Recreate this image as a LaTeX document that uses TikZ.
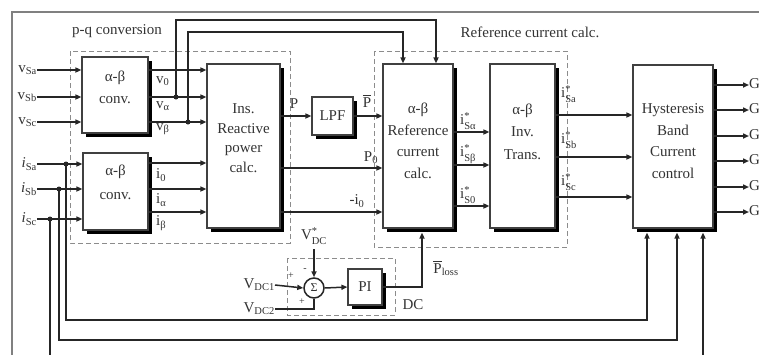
\documentclass[tikz,border=0pt]{standalone}
\usepackage{amsmath}
\usepackage{fontspec}
\setmainfont{Liberation Serif}
\usetikzlibrary{arrows.meta,shadows,calc}
\newcommand{\supsub}[2]{$^{\text{#1}}_{\text{#2}}$}
\begin{document}
\begin{tikzpicture}[x=1pt,y=-1pt,
  font=\fontsize{15}{19}\selectfont, text=black!80,
  blk/.style={rectangle, draw=black!75, line width=1.2pt, fill=white, inner sep=0pt,
    drop shadow={shadow xshift=4pt, shadow yshift=-4pt, fill=black, opacity=1}},
  txt/.style={inner sep=0pt, align=center},
  lbl/.style={inner sep=0pt, font=\fontsize{15}{17}\selectfont},
  wire/.style={draw=black!85, line width=1.5pt},
  arr/.style={wire, -{Triangle[length=6pt,width=5pt]}},
  dashbox/.style={draw=black!45, line width=1pt, dash pattern=on 5pt off 3pt},
  dot/.style={circle, fill=black!85, inner sep=0pt, minimum size=5pt},
  sign/.style={inner sep=0pt, font=\fontsize{10}{10}\selectfont},
]
\useasboundingbox (0,0) rectangle (759,354);
% outer frame
\draw[draw=black!50, line width=1.5pt] (12,380) -- (12,12) -- (780,12);

% dashed groups
\draw[dashbox] (70,51) rectangle (290,243);
\draw[dashbox] (374,51) rectangle (567,247);
\draw[dashbox] (287,258) rectangle (395,315);
\node[txt] (pqlab) at (117,31) {p-q conversion};
\node[txt] (reflab) at (530,32) {Reference current calc.};
\node[txt] (dclab) at (413,305) {DC};

% blocks
\node[blk, minimum width=66pt, minimum height=76pt] (b1) at (115,95) {};
\node[blk, minimum width=65pt, minimum height=77pt] (b2) at (115.5,191.5) {};
\node[blk, minimum width=73pt, minimum height=164pt] (ins) at (243.5,146) {};
\node[blk, minimum width=41pt, minimum height=38pt] (lpf) at (332.5,116) {LPF};
\node[blk, minimum width=70pt, minimum height=164pt] (ref) at (418,146) {};
\node[blk, minimum width=65pt, minimum height=164pt] (inv) at (522.5,146) {};
\node[blk, minimum width=80pt, minimum height=163pt] (hy) at (673,146.5) {};
\node[blk, minimum width=34pt, minimum height=36pt] (pi) at (365,287) {PI};
\node[circle, draw=black!85, line width=1.5pt, minimum size=20pt, inner sep=0pt,
  fill=white, font=\fontsize{12}{12}\selectfont] (sg) at (314,288) {Σ};

% block texts
\node[txt, font=\fontsize{15}{22}\selectfont] (b1t) at (115,87) {α-β\\conv.};
\node[txt, font=\fontsize{15}{24}\selectfont] (b2t) at (115.5,182) {α-β\\conv.};
\node[txt, font=\fontsize{15}{19.5}\selectfont] (inst) at (243.5,138) {Ins.\\Reactive\\power\\calc.};
\node[txt, font=\fontsize{15}{21.5}\selectfont] (reft) at (418,141) {α-β\\Reference\\current\\calc.};
\node[txt, font=\fontsize{15}{22.5}\selectfont] (invt) at (522.5,131.5) {α-β\\Inv.\\Trans.};
\node[txt, font=\fontsize{15}{21.5}\selectfont] (hyt) at (673,141) {Hysteresis\\Band\\Current\\control};

% input labels
\node[lbl, anchor=east] (vsa) at (37,70) {v\textsubscript{Sa}};
\node[lbl, anchor=east] (vsb) at (37,97) {v\textsubscript{Sb}};
\node[lbl, anchor=east] (vsc) at (37,122) {v\textsubscript{Sc}};
\node[lbl, anchor=east] (isa) at (37,164) {\textit{i}\textsubscript{Sa}};
\node[lbl, anchor=east] (isb) at (37,189) {\textit{i}\textsubscript{Sb}};
\node[lbl, anchor=east] (isc) at (37,219) {\textit{i}\textsubscript{Sc}};

\draw[arr] (vsa.east) -- (b1.west |- vsa.east);
\draw[arr] (vsb.east) -- (b1.west |- vsb.east);
\draw[arr] (vsc.east) -- (b1.west |- vsc.east);
\draw[arr] (isa.east) -- (b2.west |- isa.east);
\draw[arr] (isb.east) -- (b2.west |- isb.east);
\draw[arr] (isc.east) -- (b2.west |- isc.east);

% current feedback to hysteresis
\node[dot] (dia) at (66,164) {};
\node[dot] (dib) at (59,189) {};
\node[dot] (dic) at (50,219) {};
\draw[arr] (dia.center) -- (66,320) -| ($(hy.south)+(-26,4)$);
\draw[arr] (dib.center) -- (59,340) -| ($(hy.south)+(4,4)$);
\draw[arr] (dic.center) -- (50,390) -| ($(hy.south)+(30,4)$);

% alpha-beta outputs
\draw[arr] (b1.east |- 0,70) -- (ins.west |- 0,70);
\draw[arr] (b1.east |- 0,97) -- (ins.west |- 0,97);
\draw[arr] (b1.east |- 0,122) -- (ins.west |- 0,122);
\draw[arr] (b2.east |- 0,163) -- (ins.west |- 0,163);
\draw[arr] (b2.east |- 0,189) -- (ins.west |- 0,189);
\draw[arr] (b2.east |- 0,212) -- (ins.west |- 0,212);
\node[lbl, anchor=west] (lv0) at (156,81) {v\textsubscript{0}};
\node[lbl, anchor=west] (lva) at (156,106) {v\textsubscript{α}};
\node[lbl, anchor=west] (lvb) at (156,129) {v\textsubscript{β}};
\node[lbl, anchor=west] (li0) at (156,175) {i\textsubscript{0}};
\node[lbl, anchor=west] (lia) at (156,200) {i\textsubscript{α}};
\node[lbl, anchor=west] (lib) at (156,223) {i\textsubscript{β}};

% voltage feedback to reference calc
\node[dot] (dva) at (176,97) {};
\node[dot] (dvb) at (188,122) {};
\draw[arr] (dva.center) |- (436,20) -- (ref.north -| 436,0);
\draw[arr] (dvb.center) |- (403,32) -- (ref.north -| 403,0);

% power signals
\draw[arr] (ins.east |- lpf.west) -- (lpf.west);
\draw[arr] (lpf.east) -- (ref.west |- lpf.east);
\draw[arr] (ins.east |- 0,168) -- (ref.west |- 0,168);
\draw[arr] (ins.east |- 0,212) -- (ref.west |- 0,212);
\node[lbl] (lp) at (294,104) {P};
\node[lbl] (lpbar) at (367,101) {$\overline{\mbox{P}}$};
\node[lbl] (lp0) at (371,158) {P\textsubscript{0}};
\node[lbl] (lmi0) at (357,201) {-i\textsubscript{0}};

% reference outputs
\draw[arr] (ref.east |- 0,132) -- (inv.west |- 0,132);
\draw[arr] (ref.east |- 0,165) -- (inv.west |- 0,165);
\draw[arr] (ref.east |- 0,206) -- (inv.west |- 0,206);
\node[lbl, anchor=west] (lra) at (460,121) {i\supsub{*}{Sα}};
\node[lbl, anchor=west] (lrb) at (460,154) {i\supsub{*}{Sβ}};
\node[lbl, anchor=west] (lr0) at (460,195) {i\supsub{*}{S0}};

% inverse transform outputs
\draw[arr] (inv.east |- 0,115) -- (hy.west |- 0,115);
\draw[arr] (inv.east |- 0,157) -- (hy.west |- 0,157);
\draw[arr] (inv.east |- 0,197) -- (hy.west |- 0,197);
\node[lbl, anchor=west] (lia2) at (561,94) {i\supsub{*}{Sa}};
\node[lbl, anchor=west] (lib2) at (561,140) {i\supsub{*}{Sb}};
\node[lbl, anchor=west] (lic2) at (561,182) {i\supsub{*}{Sc}};

% gate outputs
\node[lbl, anchor=west] (ga) at (749,85) {G\textsubscript{A}};
\node[lbl, anchor=west] (gb) at (749,110) {G\textsubscript{B}};
\node[lbl, anchor=west] (gc) at (749,136) {G\textsubscript{C}};
\node[lbl, anchor=west] (gd) at (749,161) {G\textsubscript{D}};
\node[lbl, anchor=west] (ge) at (749,187) {G\textsubscript{E}};
\node[lbl, anchor=west] (gf) at (749,212) {G\textsubscript{F}};
\foreach \g in {ga,gb,gc,gd,ge,gf}
  \draw[arr] (hy.east |- \g.west) -- (\g.west);

% DC loop
\node[lbl] (vdcs) at (314,236) {V\supsub{*}{DC}};
\node[lbl, anchor=east] (vdc1) at (275,285) {V\textsubscript{DC1}};
\node[lbl, anchor=east] (vdc2) at (275,309) {V\textsubscript{DC2}};
\draw[arr] ([yshift=-5pt]vdcs.south) -- (sg.north);
\draw[arr] (vdc1.east) -- (sg.west);
\draw[wire] (vdc2.east) -| (sg.south);
\node[sign] (pl1) at (291,276) {+};
\node[sign] (mi1) at (305,270) {-};
\node[sign] (pl2) at (302,302) {+};
\draw[arr] (sg.east) -- (pi.west);
\draw[arr] (pi.east) -| ($(ref.south)+(4,4)$);
\node[lbl] (lploss) at (446,268) {$\overline{\mbox{P}}$\textsubscript{loss}};
\end{tikzpicture}
\end{document}
